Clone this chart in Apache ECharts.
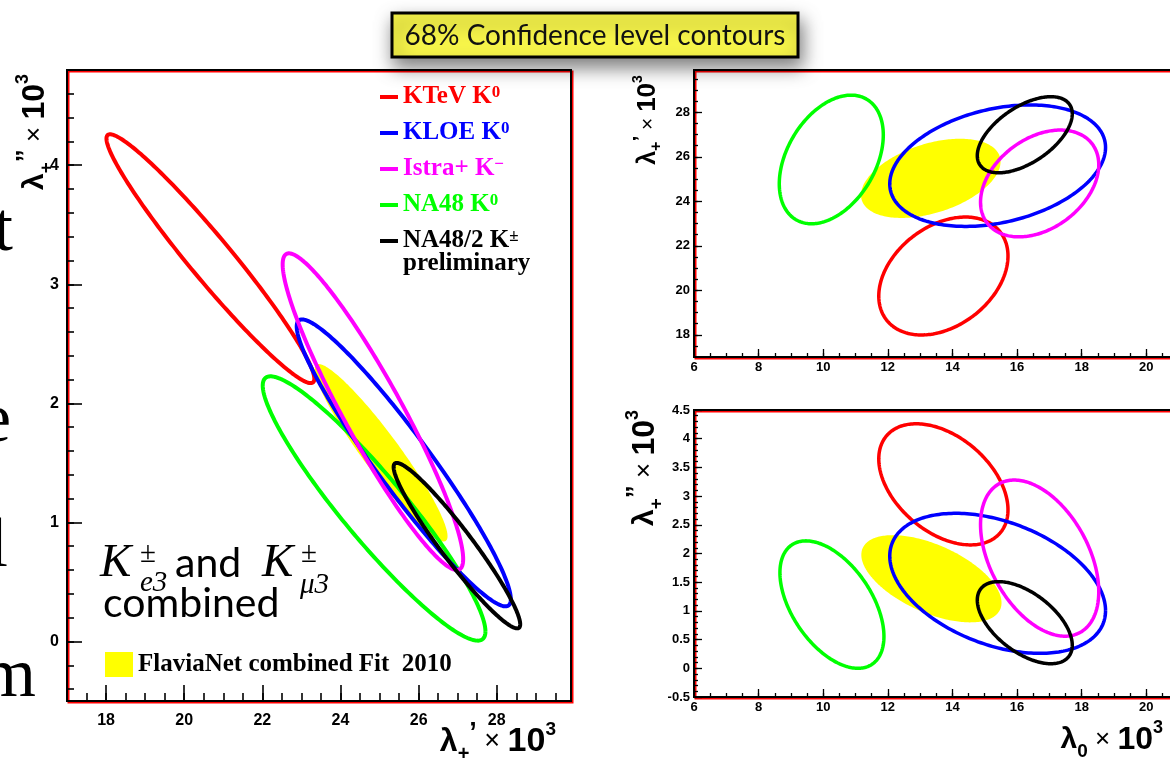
<!DOCTYPE html>
<html><head><meta charset="utf-8">
<script src="https://cdn.jsdelivr.net/npm/echarts@6/dist/echarts.min.js"></script>
<style>html,body{margin:0;padding:0;background:#fff}#c{width:1170px;height:764px}</style>
</head><body><div id="c"></div>
<script>
// ---------------- data ----------------
const expBase = ['KTeV K', 'KLOE K', 'Istra+ K', 'NA48 K', 'NA48/2 K'];
const expSup  = ['0', '0', '\u2212', '0', '\u00b1'];
const expColors = ['#ff0000', '#0000ff', '#ff00ff', '#00ff00', '#000000'];
const fitName = 'FlaviaNet combined Fit  2010';
const fitColor = '#ffff00';

// 68% CL contours: [centre x, half-extent x, centre y, half-extent y, correlation]
// panel left: x = lambda+' , y = lambda+''
const contoursLpLpp = [
  [20.67, 2.66, 3.215, 1.045, -0.965],
  [25.62, 2.74, 1.50, 1.205, -0.95],
  [24.83, 2.31, 1.93, 1.33, -0.93],
  [24.86, 2.85, 1.117, 1.11, -0.93],
  [26.98, 1.62, 0.805, 0.695, -0.95]
];
const fitLpLpp = [25.04, 1.70, 1.585, 0.745, -0.94];
// panel top-right: x = lambda0 , y = lambda+'
const contoursL0Lp = [
  [13.72, 2.00, 20.64, 2.65, 0.34],
  [15.40, 3.34, 25.60, 2.73, 0.30],
  [16.70, 1.83, 24.80, 2.40, 0.35],
  [10.25, 1.61, 25.88, 2.89, 0.38],
  [16.24, 1.47, 26.99, 1.71, 0.55]
];
const fitL0Lp = [13.33, 2.16, 25.03, 1.78, 0.42];
// panel bottom-right: x = lambda0 , y = lambda+''
const contoursL0Lpp = [
  [13.72, 2.00, 3.205, 1.055, -0.42],
  [15.40, 3.34, 1.48, 1.22, -0.39],
  [16.70, 1.83, 1.92, 1.36, -0.43],
  [10.27, 1.61, 1.11, 1.11, -0.50],
  [16.24, 1.47, 0.795, 0.715, -0.55]
];
const fitL0Lpp = [13.35, 2.17, 1.56, 0.76, -0.55];

// tick labels
const ticksLpLeft  = [18, 20, 22, 24, 26, 28];
const ticksLppLeft = [0, 1, 2, 3, 4];
const ticksL0      = [6, 8, 10, 12, 14, 16, 18, 20];
const ticksLpRight = [18, 20, 22, 24, 26, 28];
const ticksLppRight = [-0.5, 0, 0.5, 1, 1.5, 2, 2.5, 3, 3.5, 4, 4.5];

// ---------------- helpers ----------------
function steps(a, b, s) { const r = []; for (let v = a; v <= b + 1e-9; v += s) r.push(Math.round(v * 1000) / 1000); return r; }

function makeRender(filled, lw) {
  return function (params, api) {
    const cx = api.value(0), sx = api.value(1), cy = api.value(2), sy = api.value(3), rho = api.value(4);
    const k = Math.sqrt(1 - rho * rho);
    const pts = [];
    for (let i = 0; i <= 240; i++) {
      const t = 2 * Math.PI * i / 240;
      pts.push(api.coord([cx + sx * Math.cos(t), cy + sy * (rho * Math.cos(t) + k * Math.sin(t))]));
    }
    const color = api.visual('color');
    if (filled) return { type: 'polygon', shape: { points: pts }, style: { fill: color, stroke: null } };
    return { type: 'polyline', shape: { points: pts }, style: { stroke: color, lineWidth: lw, fill: null, lineJoin: 'round' } };
  };
}

const sansB = '"Liberation Sans", Arial, sans-serif';
const serif = '"Liberation Serif", "Times New Roman", serif';

function gridAxes(gi, xr, yr, xMaj, xMin, yMaj, yMin, big) {
  const fs = big ? 16 : 13;
  const tickStyle = { color: '#000', width: big ? 1.6 : 1.3 };
  const lab = { fontFamily: sansB, fontWeight: 'bold', fontSize: fs, color: '#000' };
  const line = { show: false, onZero: false };
  const xs = [
    { gridIndex: gi, type: 'value', min: xr[0], max: xr[1], position: 'bottom',
      axisLine: line, splitLine: { show: false },
      axisTick: { inside: true, length: big ? 16 : 8, lineStyle: tickStyle, customValues: xMaj },
      axisLabel: Object.assign({ customValues: xMaj, margin: big ? 12 : 4 }, lab) },
    { gridIndex: gi, type: 'value', min: xr[0], max: xr[1], position: 'bottom',
      axisLine: line, splitLine: { show: false },
      axisTick: { inside: true, length: big ? 8 : 4, lineStyle: tickStyle, customValues: xMin },
      axisLabel: { show: false } }
  ];
  const ys = [
    { gridIndex: gi, type: 'value', min: yr[0], max: yr[1], position: 'left',
      axisLine: line, splitLine: { show: false },
      axisTick: { inside: true, length: big ? 15 : 8, lineStyle: tickStyle, customValues: yMaj },
      axisLabel: Object.assign({ customValues: yMaj, margin: big ? 8 : 4 }, lab) },
    { gridIndex: gi, type: 'value', min: yr[0], max: yr[1], position: 'left',
      axisLine: line, splitLine: { show: false },
      axisTick: { inside: true, length: big ? 7 : 4, lineStyle: tickStyle, customValues: yMin },
      axisLabel: { show: false } }
  ];
  return { xs, ys };
}

const ax0 = gridAxes(0, [17, 29.9], [-0.5, 4.8], ticksLpLeft, steps(17.5, 29.5, 0.5), ticksLppLeft, steps(-0.4, 4.8, 0.2), true);
const ax1 = gridAxes(1, [6, 22.5], [17, 29.9], ticksL0, steps(6.5, 22, 0.5), ticksLpRight, steps(17.5, 29.5, 0.5), false);
const ax2 = gridAxes(2, [6, 22.5], [-0.5, 4.5], ticksL0, steps(6.5, 22, 0.5), ticksLppRight, steps(-0.4, 4.4, 0.1), false);

const drawOrder = [0, 3, 1, 2, 4];
const series = [];
const panels = [
  { contours: contoursLpLpp, fit: fitLpLpp, x: 0, y: 0, lw: 4 },
  { contours: contoursL0Lp, fit: fitL0Lp, x: 2, y: 2, lw: 3.5 },
  { contours: contoursL0Lpp, fit: fitL0Lpp, x: 4, y: 4, lw: 3.5 }
];
panels.forEach(p => {
  series.push({ type: 'custom', name: fitName, xAxisIndex: p.x, yAxisIndex: p.y,
    itemStyle: { color: fitColor }, renderItem: makeRender(true, 0), data: [p.fit], silent: true });
  drawOrder.forEach(i => {
    series.push({ type: 'custom', name: expBase[i] + expSup[i], xAxisIndex: p.x, yAxisIndex: p.y,
      itemStyle: { color: expColors[i] }, renderItem: makeRender(false, p.lw), data: [p.contours[i]], silent: true });
  });
});

const legendRich = {};
expBase.forEach((b, i) => {
  legendRich['b' + i] = { fontFamily: serif, fontWeight: 'bold', fontSize: 25, lineHeight: 26, color: expColors[i] };
  legendRich['s' + i] = { fontFamily: serif, fontWeight: 'bold', fontSize: 17, lineHeight: 8, verticalAlign: 'top', color: expColors[i] };
});

function titleRich(f) {
  return {
    l:  { fontFamily: sansB, fontWeight: 'bold', fontSize: Math.round(f * 0.95), lineHeight: Math.round(f * 1.3), verticalAlign: 'middle', fill: '#000' },
    sb: { fontFamily: sansB, fontWeight: 'bold', fontSize: Math.round(f * 0.6), lineHeight: Math.round(f * 0.55), verticalAlign: 'bottom', fill: '#000' },
    p:  { fontFamily: sansB, fontWeight: 'bold', fontSize: Math.round(f * 0.8), lineHeight: Math.round(f * 0.7), verticalAlign: 'top', fill: '#000' },
    x:  { fontFamily: sansB, fontSize: Math.round(f * 0.8), lineHeight: Math.round(f * 1.3), verticalAlign: 'middle', fill: '#000' },
    t:  { fontFamily: sansB, fontWeight: 'bold', fontSize: f, lineHeight: Math.round(f * 1.3), verticalAlign: 'middle', fill: '#000' },
    sp: { fontFamily: sansB, fontWeight: 'bold', fontSize: Math.round(f * 0.55), lineHeight: Math.round(f * 0.5), verticalAlign: 'top', fill: '#000' }
  };
}
function axisTitle(txt, x, y, f, rot, align) {
  return { type: 'text', x: x, y: y, rotation: rot, z: 50,
    style: { text: txt, rich: titleRich(f), font: 'bold ' + Math.round(f * 0.8) + 'px ' + sansB, fill: '#000',
      align: align, verticalAlign: 'middle' } };
}
function txt(t, x, y, font, align, fill) {
  return { type: 'text', x: x, y: y, z: 40, style: { text: t, font: font, fill: fill || '#000', align: align || 'left', verticalAlign: 'middle' } };
}

const graphics = [
  // slide text cut off on the left edge
  txt('t', 13, 232, '70px ' + serif, 'right'),
  txt('e', 11, 423, '70px ' + serif, 'right'),
  txt('l', 8, 548, '70px ' + serif, 'right'),
  txt('m', 36, 678, '70px ' + serif, 'right'),
  // K_e3 and K_mu3 combined
  txt('K', 100, 564, 'italic 47px ' + serif),
  txt('\u00b1', 140, 554, '29px ' + serif),
  txt('e3', 140, 583, 'italic 29px ' + serif),
  txt('and', 175, 564, '41px Lato, sans-serif'),
  txt('K', 262, 564, 'italic 47px ' + serif),
  txt('\u00b1', 301, 554, '29px ' + serif),
  txt('\u03bc3', 300, 585, 'italic 29px ' + serif),
  txt('combined', 103, 604, '41px Lato, sans-serif'),
  txt('preliminary', 403, 264, 'bold 25px ' + serif),
  // axis titles
  axisTitle('{l|λ}{sb|+}{p|’} {x|×} {t|10}{sp|3}', 556, 742, 34, 0, 'right'),
  axisTitle('{l|λ}{sb|+}{p|”} {x|×} {t|10}{sp|3}', 35, 132, 32, Math.PI / 2, 'center'),
  axisTitle('{l|λ}{sb|+}{p|’} {x|×} {t|10}{sp|3}', 648, 120, 26, Math.PI / 2, 'center'),
  axisTitle('{l|λ}{sb|+}{p|”} {x|×} {t|10}{sp|3}', 645, 468, 32, Math.PI / 2, 'center'),
  axisTitle('{l|λ}{sb|0} {x|×} {t|10}{sp|3}', 1163, 740, 32, 0, 'right'),
  // title box
  { type: 'rect', z: 100, shape: { x: 392, y: 13, width: 406, height: 44 },
    style: { fill: '#f7f54a', stroke: '#000', lineWidth: 3, shadowBlur: 18, shadowOffsetX: 3, shadowOffsetY: 9, shadowColor: 'rgba(0,0,0,0.5)' } },
  { type: 'text', z: 101, x: 595, y: 36, style: { text: '68% Confidence level contours', font: '28px Lato, sans-serif', fill: '#111', align: 'center', verticalAlign: 'middle' } }
];

const gridStyle = { show: true, borderColor: '#000', borderWidth: 2, backgroundColor: 'transparent',
  shadowColor: '#ff0000', shadowBlur: 0, shadowOffsetX: 1.5, shadowOffsetY: 1.5, outerBoundsMode: 'none', containLabel: false };

const option = {
  animation: false,
  backgroundColor: '#fff',
  grid: [
    Object.assign({ left: 67, top: 70, width: 504, height: 631 }, gridStyle),
    Object.assign({ left: 694, top: 70, width: 533, height: 287 }, gridStyle),
    Object.assign({ left: 694, top: 410, width: 533, height: 287 }, gridStyle)
  ],
  xAxis: ax0.xs.concat(ax1.xs, ax2.xs),
  yAxis: ax0.ys.concat(ax1.ys, ax2.ys),
  legend: [
    { data: expBase.map((b, i) => b + expSup[i]), orient: 'vertical', left: 380, top: 84, padding: 0,
      itemWidth: 18, itemHeight: 4, itemGap: 10, icon: 'rect', selectedMode: false,
      formatter: function (name) { const i = expBase.findIndex((b, k) => b + expSup[k] === name); return '{b' + i + '|' + expBase[i] + '}{s' + i + '|' + expSup[i] + '}'; },
      textStyle: { fontFamily: serif, fontWeight: 'bold', fontSize: 25, lineHeight: 26, rich: legendRich } },
    { data: [fitName], left: 105, top: 652, padding: 0, itemWidth: 28, itemHeight: 25, icon: 'rect', selectedMode: false,
      textStyle: { fontFamily: serif, fontWeight: 'bold', fontSize: 25, color: '#000' } }
  ],
  graphic: graphics,
  series: series
};

const chart = echarts.init(document.getElementById('c'), null, { renderer: 'canvas' });
chart.setOption(option);
</script>
</body></html>
